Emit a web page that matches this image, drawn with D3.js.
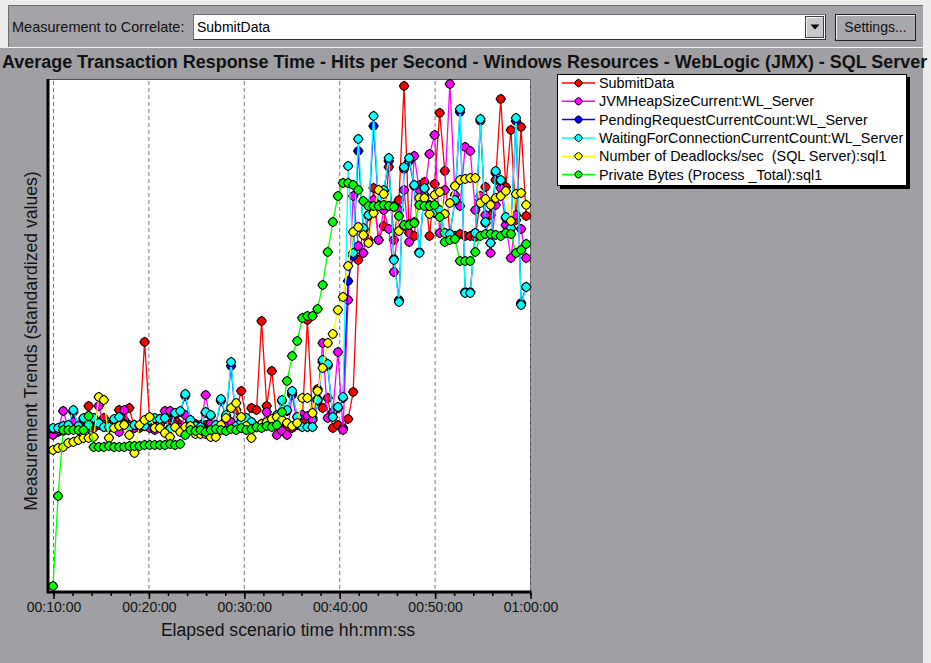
<!DOCTYPE html>
<html>
<head>
<meta charset="utf-8">
<script src="https://cdnjs.cloudflare.com/ajax/libs/d3/7.8.5/d3.min.js"></script>
<style>
body { margin: 0; background: #ececec; }
svg { display: block; font-family: Arial, "Liberation Sans", sans-serif; }
</style>
</head>
<body>
<svg width="931" height="663"></svg>
<script>
// measurement names, in legend / drawing order
var seriesNames = [
    "SubmitData",
    "JVMHeapSizeCurrent:WL_Server",
    "PendingRequestCurrentCount:WL_Server",
    "WaitingForConnectionCurrentCount:WL_Server",
    "Number of Deadlocks/sec  (SQL Server):sql1",
    "Private Bytes (Process _Total):sql1"
];
var seriesColors = ["#ff0000", "#ff00ff", "#0000ff", "#00ffff", "#ffff00", "#00ff00"];

var tickSeconds = [600, 1200, 1800, 2400, 3000, 3600];
var tickLabels = ["00:10:00", "00:20:00", "00:30:00", "00:40:00", "00:50:00", "01:00:00"];

// one sample every 32 s from 00:10:00
var sampleTimes = d3.range(94).map(function (i) { return 600 + i * 32; });

// standardized values
var submitData = [32.2,31.8,32.0,32.2,32.6,32.2,33.2,37.0,32.6,33.2,34.6,33.2,33.8,36.2,34.2,36.6,32.6,32.6,49.8,34.2,
    32.6,33.2,34.6,34.0,34.2,33.2,32.6,33.2,33.4,32.2,33.2,32.8,33.0,32.2,34.2,33.2,36.2,40.0,34.2,36.6,
    36.2,54.0,37.0,44.0,34.2,32.6,33.2,32.6,33.2,34.2,54.2,34.6,40.4,36.6,38.6,32.6,33.2,32.6,34.4,39.8,
    66.2,72.2,70.2,80.6,70.2,73.0,84.8,70.2,78.2,101.0,71.6,71.0,81.2,81.8,71.0,81.4,95.6,84.0,71.2,71.0,
    71.4,71.0,71.0,70.8,78.2,80.8,75.2,82.2,98.4,80.8,92.2,74.2,92.8,75.0];
var jvmHeap = [31.2,32.2,36.0,32.6,33.8,32.2,33.2,32.6,34.2,37.0,33.2,32.6,34.2,31.8,36.2,33.2,32.6,33.0,33.2,32.6,
    32.2,33.4,36.0,36.0,33.2,32.6,35.2,34.0,33.0,33.2,39.2,33.6,32.6,32.8,33.2,33.8,33.0,32.6,32.4,33.2,
    32.8,33.4,35.8,33.2,31.2,32.0,31.2,39.2,33.4,35.2,35.0,34.2,38.4,49.6,34.6,35.8,47.8,32.2,58.2,79.0,
    69.0,67.6,75.2,78.2,70.2,76.2,72.4,63.8,76.2,80.2,69.8,87.0,80.2,79.2,87.4,91.2,71.6,80.2,101.4,79.2,
    77.0,88.8,88.0,76.2,79.0,75.2,67.6,77.2,80.6,73.2,66.6,75.2,72.4,66.6];
var pendingRequests = [32.4,32.6,33.0,33.0,35.8,33.0,34.4,33.2,34.4,33.6,32.8,32.8,34.2,34.6,33.4,32.8,33.2,33.0,33.0,34.0,
    34.4,34.4,34.4,32.6,35.4,35.8,39.0,34.2,33.0,32.8,35.6,35.0,33.2,38.0,35.0,45.0,33.0,33.8,34.4,33.8,
    32.8,33.0,33.2,33.4,35.0,38.0,36.0,39.6,34.8,32.8,32.8,32.8,38.0,45.8,45.0,34.8,36.6,38.6,62.0,67.0,
    88.0,72.4,75.0,93.0,77.0,80.0,86.0,66.4,58.2,84.4,86.0,81.0,67.8,80.4,77.0,75.6,76.0,71.6,71.4,78.0,
    95.8,59.8,59.8,71.6,94.0,73.6,69.6,83.6,82.0,74.6,72.6,94.0,57.6,60.8];
var waitingConnections = [32.6,32.6,33.0,33.2,36.2,33.0,34.6,33.2,34.6,33.6,32.8,32.8,34.4,34.8,33.4,32.8,33.2,33.0,33.0,34.2,
    34.6,34.4,34.6,32.4,35.6,36.0,39.4,34.2,33.0,32.8,35.8,35.2,33.2,38.4,35.2,45.8,33.0,33.8,34.6,33.8,
    32.8,33.0,33.2,33.4,35.2,38.2,36.2,40.0,34.8,32.8,32.8,32.8,38.2,46.2,45.4,34.8,36.8,38.8,85.0,67.6,
    90.4,72.6,75.2,95.0,77.2,80.2,86.6,66.2,57.8,84.8,86.6,81.2,67.6,80.6,77.2,75.8,76.2,71.6,71.4,78.2,
    96.4,59.6,59.6,71.6,94.4,73.8,69.6,84.0,82.2,74.8,72.6,94.6,57.2,60.8];
var deadlocks = [28.2,28.6,28.8,29.6,29.8,30.2,30.6,30.6,30.8,38.8,38.2,30.6,32.6,33.0,33.2,31.2,27.6,33.2,34.2,34.8,
    32.6,32.6,31.6,30.8,32.8,31.8,32.8,33.0,31.4,31.4,31.4,30.8,30.8,33.2,34.6,36.6,37.6,34.8,33.0,30.6,
    32.8,33.4,33.8,34.4,34.8,34.2,33.6,33.0,33.6,38.6,38.6,35.6,40.0,44.6,49.6,51.4,56.2,58.8,65.0,71.8,
    72.8,71.2,69.6,75.6,80.2,79.4,77.0,77.0,72.0,73.0,73.4,73.8,78.6,78.6,75.4,79.2,79.8,75.4,77.6,81.0,
    82.2,82.4,82.6,82.6,77.6,78.4,77.2,78.6,79.0,80.0,74.0,79.4,79.6,77.2];
var privateBytes = [1.0,19.0,32.2,32.2,32.2,32.2,32.2,35.0,28.8,28.8,28.8,29.0,28.8,28.8,28.8,29.0,29.0,29.0,29.2,29.2,
    29.2,29.2,29.2,29.4,29.2,29.4,31.2,32.2,32.0,32.2,31.8,32.2,32.4,32.2,32.0,32.4,32.2,32.6,32.2,32.4,
    32.8,32.6,33.0,32.8,33.2,35.8,42.0,47.0,50.0,54.6,55.0,55.0,56.4,61.2,67.8,73.8,79.0,81.6,81.6,81.2,
    80.2,78.0,77.0,77.0,77.0,77.2,77.0,76.8,75.0,73.2,73.2,73.6,77.2,77.0,77.0,77.2,74.8,69.8,70.2,70.4,
    66.0,66.0,66.0,67.8,71.0,71.4,71.4,71.2,71.0,71.6,71.4,67.6,68.2,69.4];

var allSeries = [submitData, jvmHeap, pendingRequests, waitingConnections, deadlocks, privateBytes];

var svg = d3.select("svg");
var plot = { left: 47, right: 531, top: 79, bottom: 591 };

var x = d3.scaleLinear().domain([600, 3600]).range([53, 530]);
var y = d3.scaleLinear().domain([0, 102.4]).range([plot.bottom, plot.top]);

// window background and toolbar
svg.append("rect").attr("x", 0).attr("y", 48).attr("width", 923).attr("height", 615).attr("fill", "#a0a0a4");
svg.append("rect").attr("x", 8).attr("y", 5).attr("width", 915).attr("height", 43).attr("fill", "#a4a4a8");
svg.append("path").attr("d", "M8.5,48V5.5H923").attr("fill", "none").attr("stroke", "#6e6e72");
svg.append("path").attr("d", "M8,47.5H923").attr("stroke", "#f4f4f4");

svg.append("text").attr("x", 12).attr("y", 32).attr("font-size", 14.5).attr("fill", "#111")
    .text("Measurement to Correlate:");

// combo box
svg.append("rect").attr("x", 193.5).attr("y", 14.5).attr("width", 632).attr("height", 25)
    .attr("fill", "#fff").attr("stroke", "#303030");
svg.append("path").attr("d", "M193.5,40V14.5H826").attr("fill", "none").attr("stroke", "#6e6e72");
svg.append("text").attr("x", 197).attr("y", 32).attr("font-size", 14).attr("fill", "#000").text("SubmitData");
svg.append("rect").attr("x", 805.5).attr("y", 16.5).attr("width", 18).attr("height", 21)
    .attr("fill", "#c8c8cc").attr("stroke", "#404040");
svg.append("path").attr("d", "M806.5,37V17.5H823").attr("fill", "none").attr("stroke", "#f4f4f4");
svg.append("path").attr("d", "M810.5,24.5h9l-4.5,5z").attr("fill", "#000");

// settings button
svg.append("rect").attr("x", 835.5).attr("y", 14.5).attr("width", 80).attr("height", 26)
    .attr("fill", "#a8a8ac").attr("stroke", "#202020");
svg.append("path").attr("d", "M836.5,39V15.5H915").attr("fill", "none").attr("stroke", "#f0f0f0");
svg.append("text").attr("x", 875.5).attr("y", 32).attr("font-size", 14).attr("text-anchor", "middle")
    .attr("fill", "#111").text("Settings...");

// chart title, fitted to the window width
var title = svg.append("text").attr("x", 2).attr("y", 68).attr("font-size", 16)
    .attr("font-weight", "bold").attr("fill", "#111")
    .text("Average Transaction Response Time - Hits per Second - Windows Resources - WebLogic (JMX) - SQL Server");
var tw = title.node().getComputedTextLength();
title.attr("font-size", 16 * 926 / tw);

// plot area
svg.append("rect").attr("x", plot.left).attr("y", plot.top).attr("width", plot.right - plot.left)
    .attr("height", plot.bottom - plot.top).attr("fill", "#fff");
svg.append("path").attr("d", "M" + plot.left + "," + (plot.top + 0.5) + "H" + (plot.right - 0.5) + "V" + plot.bottom)
    .attr("fill", "none").attr("stroke", "#505050");

svg.append("g").selectAll("line").data(tickSeconds).enter().append("line")
    .attr("x1", function (d) { return x(d) + 0.5; }).attr("x2", function (d) { return x(d) + 0.5; })
    .attr("y1", plot.top + 2).attr("y2", plot.bottom - 1)
    .attr("stroke", "#7a7a7a").attr("stroke-dasharray", "4,3");

// series
var line = d3.line()
    .x(function (d, i) { return x(sampleTimes[i]); })
    .y(function (d) { return y(d); });
// rounded diamond marker
var marker = "M0,-4.7L2.9,-2.9L4.7,0L2.9,2.9L0,4.7L-2.9,2.9L-4.7,0L-2.9,-2.9Z";

var series = svg.append("g").selectAll("g").data(allSeries).enter().append("g");
series.append("path")
    .attr("d", line)
    .attr("fill", "none")
    .attr("stroke", function (d, i) { return seriesColors[i]; })
    .attr("stroke-width", 1.3);
series.each(function (vals, k) {
    d3.select(this).selectAll("path.pt").data(vals).enter().append("path")
        .attr("class", "pt")
        .attr("d", marker)
        .attr("transform", function (d, i) { return "translate(" + x(sampleTimes[i]) + "," + y(d) + ")"; })
        .attr("fill", seriesColors[k])
        .attr("stroke", "#000")
        .attr("stroke-width", 1.1);
});

// thick left / bottom frame
svg.append("path").attr("d", "M" + (plot.left + 1) + "," + plot.top + "V" + (plot.bottom + 1) + "H" + (plot.right + 0.5))
    .attr("fill", "none").attr("stroke", "#000").attr("stroke-width", 3);

// x axis
var minorTicks = d3.range(600, 3601, 120);
var minorAxis = d3.axisBottom(x).tickValues(minorTicks).tickSize(3).tickFormat("");
var majorAxis = d3.axisBottom(x).tickValues(tickSeconds).tickSize(6)
    .tickFormat(function (d, i) { return tickLabels[i]; });

var gMinor = svg.append("g").attr("transform", "translate(0.5," + (plot.bottom + 2) + ")").call(minorAxis);
var gMajor = svg.append("g").attr("transform", "translate(0.5," + (plot.bottom + 2) + ")").call(majorAxis);
svg.selectAll(".domain").remove();
svg.selectAll(".tick line").attr("stroke", "#000").attr("stroke-width", 1.5);
gMajor.selectAll("text").attr("font-size", 14).attr("font-family", "Arial, 'Liberation Sans', sans-serif")
    .attr("fill", "#111").attr("dy", 0).attr("y", 19);

svg.append("text").attr("x", 288).attr("y", 636).attr("font-size", 17.6).attr("text-anchor", "middle")
    .attr("fill", "#111").text("Elapsed scenario time hh:mm:ss");
svg.append("text").attr("transform", "translate(37,341) rotate(-90)").attr("font-size", 17.6)
    .attr("text-anchor", "middle").attr("fill", "#111").text("Measurement Trends (standardized values)");

// legend
var lg = svg.append("g");
lg.append("rect").attr("x", 560).attr("y", 77).attr("width", 350).attr("height", 112).attr("fill", "#000");
lg.append("rect").attr("x", 557.5).attr("y", 74.5).attr("width", 349).attr("height", 111)
    .attr("fill", "#fff").attr("stroke", "#000");
var rows = lg.selectAll("g.row").data(seriesNames).enter().append("g").attr("class", "row")
    .attr("transform", function (d, i) { return "translate(0," + (83 + i * 18.3) + ")"; });
rows.append("line").attr("x1", 562).attr("x2", 595).attr("y1", 0).attr("y2", 0)
    .attr("stroke", function (d, i) { return seriesColors[i]; }).attr("stroke-width", 1.5);
rows.append("path").attr("d", "M0,-3.8L2.4,-2.4L3.8,0L2.4,2.4L0,3.8L-2.4,2.4L-3.8,0L-2.4,-2.4Z")
    .attr("transform", "translate(578.5,0)")
    .attr("fill", function (d, i) { return seriesColors[i]; }).attr("stroke", "#000");
rows.append("text").attr("x", 599).attr("y", 5).attr("font-size", 14.4).attr("fill", "#000")
    .style("white-space", "pre")
    .text(function (d) { return d; });
</script>
</body>
</html>
